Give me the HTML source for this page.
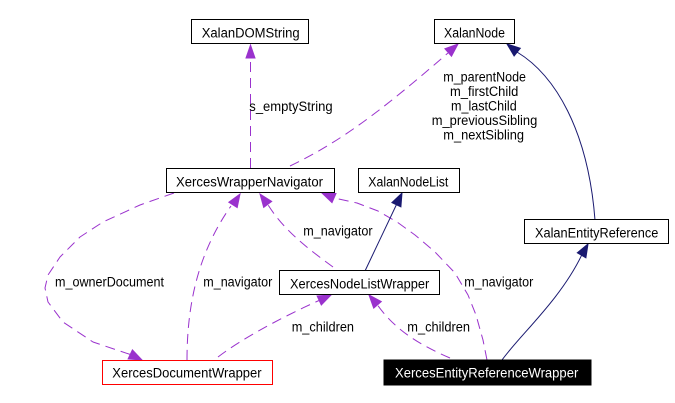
<!DOCTYPE html>
<html>
<head>
<meta charset="utf-8">
<style>
html,body{margin:0;padding:0;background:#fff;}
svg{display:block;}
text{font-family:"Liberation Sans",Arial,sans-serif;font-size:13.5px;fill:#000;}
</style>
</head>
<body>
<svg width="675" height="403" viewBox="0 0 675 403" xmlns="http://www.w3.org/2000/svg">
<rect width="675" height="403" fill="#fff"/>

<!-- purple dashed edges -->
<g fill="none" stroke="#9a32cd" stroke-width="1" stroke-dasharray="10,6">
  <path d="M250.5,168 L250.5,58"/>
  <path d="M290,166 C340,142 380,112 448,53"/>
  <path d="M333,267 C310,250 285,232 267.7,204.4"/>
  <path d="M187,360 C187,300 200,250 231,206"/>
  <path d="M218,357 C240,340 280,318 319,300.5"/>
  <polyline stroke-linejoin="round" points="174,193 140,205 103,222 80,237 60,257 48,275 45,288 48,302 63,322 93,342 130,354.4"/>
  <polyline stroke-linejoin="round" points="487,360 483,340 476,315 468,295 455,273 435,252 415,235 397,222 378,211 357,203 334,198"/>
  <path d="M450,358 C420,345 395,330 377.5,305"/>
</g>

<!-- purple arrowheads -->
<g fill="#9a32cd" stroke="#9a32cd" stroke-width="1">
  <polygon points="250.5,45 246,58 255,58"/>
  <polygon points="458,44 451.5,56.3 444.9,48.7"/>
  <polygon points="260,194 271.7,201.4 263.7,207.4"/>
  <polygon points="240,194 237.2,207.6 228.8,202.2"/>
  <polygon points="331,295 321.3,305 317.1,296"/>
  <polygon points="142,360 128.1,358.9 132.4,349.9"/>
  <polygon points="322,193 336,193.5 332,202.7"/>
  <polygon points="369,295 381.3,301.6 373.7,308.1"/>
</g>

<!-- navy solid edges -->
<g fill="none" stroke="#191970" stroke-width="1">
  <path d="M595,220 C588,130 555,75 517,52"/>
  <path d="M365,271 L396.4,204.75"/>
  <path d="M502,360 C520,335 560,300 581.6,255.3"/>
</g>
<g fill="#191970" stroke="#191970" stroke-width="1">
  <polygon points="507,44 520.3,48.2 514.1,56"/>
  <polygon points="402,193 400.9,206.9 391.9,202.6"/>
  <polygon points="588,244 585.9,257.8 577.3,252.8"/>
</g>

<!-- nodes -->
<g fill="#fff" stroke="#000" stroke-width="1">
  <rect x="191.5" y="19.5" width="117" height="24"/>
  <rect x="434.5" y="19.5" width="80" height="24"/>
  <rect x="166.5" y="168.5" width="168" height="24"/>
  <rect x="358.5" y="168.5" width="101" height="24"/>
  <rect x="524.5" y="219.5" width="144" height="24"/>
  <rect x="279.5" y="270.5" width="160" height="24"/>
  <rect x="102.5" y="360.5" width="170" height="24" stroke="#ff0000"/>
  <rect x="384" y="360" width="207" height="25" fill="#000" stroke="#000"/>
</g>

<!-- node labels -->
<text x="201.7" y="37.5" textLength="98" lengthAdjust="spacingAndGlyphs">XalanDOMString</text>
<text x="444" y="37.5" textLength="61" lengthAdjust="spacingAndGlyphs">XalanNode</text>
<text x="176" y="186.5" textLength="147" lengthAdjust="spacingAndGlyphs">XercesWrapperNavigator</text>
<text x="368.3" y="186.5" textLength="80" lengthAdjust="spacingAndGlyphs">XalanNodeList</text>
<text x="535" y="237.5" textLength="123.3" lengthAdjust="spacingAndGlyphs">XalanEntityReference</text>
<text x="290" y="288.5" textLength="139.3" lengthAdjust="spacingAndGlyphs">XercesNodeListWrapper</text>
<text x="112.3" y="377.7" textLength="149.3" lengthAdjust="spacingAndGlyphs">XercesDocumentWrapper</text>
<text x="395" y="377.7" textLength="183.3" lengthAdjust="spacingAndGlyphs" style="fill:#fff">XercesEntityReferenceWrapper</text>

<!-- edge labels -->
<text x="249.3" y="111" textLength="83.3" lengthAdjust="spacingAndGlyphs">s_emptyString</text>
<text x="443.3" y="81.3" textLength="82.7" lengthAdjust="spacingAndGlyphs">m_parentNode</text>
<text x="450" y="96" textLength="68.3" lengthAdjust="spacingAndGlyphs">m_firstChild</text>
<text x="451" y="110.6" textLength="65.7" lengthAdjust="spacingAndGlyphs">m_lastChild</text>
<text x="431.7" y="125.2" textLength="105.6" lengthAdjust="spacingAndGlyphs">m_previousSibling</text>
<text x="443.3" y="139.6" textLength="80.7" lengthAdjust="spacingAndGlyphs">m_nextSibling</text>
<text x="55" y="286.7" textLength="109" lengthAdjust="spacingAndGlyphs">m_ownerDocument</text>
<text x="203.3" y="286.7" textLength="69" lengthAdjust="spacingAndGlyphs">m_navigator</text>
<text x="303.3" y="235.7" textLength="69.3" lengthAdjust="spacingAndGlyphs">m_navigator</text>
<text x="291.7" y="331.7" textLength="62.3" lengthAdjust="spacingAndGlyphs">m_children</text>
<text x="407.3" y="331.7" textLength="62.7" lengthAdjust="spacingAndGlyphs">m_children</text>
<text x="464.3" y="286.7" textLength="69" lengthAdjust="spacingAndGlyphs">m_navigator</text>
</svg>
</body>
</html>
